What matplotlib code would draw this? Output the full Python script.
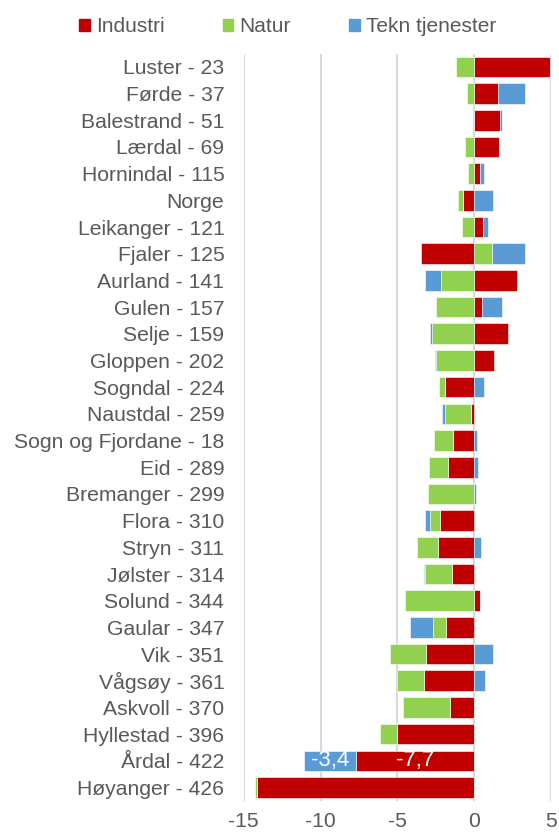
import numpy as np
import matplotlib.pyplot as plt
from matplotlib.patches import Patch

plt.rcParams['font.family'] = ['Liberation Sans', 'DejaVu Sans']

# categories from top to bottom
kommuner = ["Luster - 23", "Førde - 37", "Balestrand - 51", "Lærdal - 69", "Hornindal - 115",
            "Norge", "Leikanger - 121", "Fjaler - 125", "Aurland - 141", "Gulen - 157",
            "Selje - 159", "Gloppen - 202", "Sogndal - 224", "Naustdal - 259",
            "Sogn og Fjordane - 18", "Eid - 289", "Bremanger - 299", "Flora - 310",
            "Stryn - 311", "Jølster - 314", "Solund - 344", "Gaular - 347", "Vik - 351",
            "Vågsøy - 361", "Askvoll - 370", "Hyllestad - 396", "Årdal - 422", "Høyanger - 426"]

industri = [4.93, 1.52, 1.67, 1.6, 0.4, -0.74, 0.55, -3.45, 2.8, 0.53,
            2.2, 1.3, -1.91, -0.24, -1.41, -1.72, 0.0, -2.26, -2.33, -1.46,
            0.4, -1.83, -3.17, -3.28, -1.57, -5.04, -7.7, -14.13]
natur = [-1.17, -0.48, -0.03, -0.59, -0.41, -0.35, -0.83, 1.17, -2.15, -2.48,
         -2.74, -2.46, -0.39, -1.67, -1.2, -1.24, -3.0, -0.63, -1.37, -1.74,
         -4.48, -0.87, -2.3, -1.74, -3.04, -1.09, 0.0, -0.15]
tekn = [0.03, 1.76, 0.15, 0.0, 0.2, 1.24, 0.35, 2.13, -1.07, 1.3,
        -0.13, -0.09, 0.65, -0.17, 0.17, 0.25, 0.13, -0.33, 0.46, -0.09,
        0.0, -1.48, 1.2, 0.67, 0.0, 0.0, -3.4, 0.0]

serier = [("Industri", industri, "#C00000"),
          ("Natur", natur, "#92D050"),
          ("Tekn tjenester", tekn, "#5B9BD5")]

fig = plt.figure(figsize=(5.59, 8.36), dpi=100)
ax = fig.add_axes([0.436, 0.042, 0.550, 0.894])

y = np.arange(len(kommuner))
pos_base = np.zeros(len(kommuner))
neg_base = np.zeros(len(kommuner))
for navn, verdier, farge in serier:
    v = np.array(verdier)
    base = np.where(v >= 0, pos_base, neg_base)
    ax.barh(y, v, left=base, height=0.77, color=farge,
            edgecolor="white", linewidth=0.4, zorder=3)
    pos_base += np.where(v >= 0, v, 0)
    neg_base += np.where(v < 0, v, 0)
    # data labels only on Årdal
    i = kommuner.index("Årdal - 422")
    if abs(v[i]) > 1:
        ax.text(base[i] + v[i] / 2, y[i], f"{v[i]:.1f}".replace(".", ","),
                ha="center", va="center", color="white", fontsize=16, zorder=4)

ax.set_xlim(-15, 5)
ax.set_ylim(len(kommuner) - 0.5, -0.5)
ax.set_xticks([-15, -10, -5, 0, 5])
ax.set_xticklabels(["-15", "-10", "-5", "0", "5"])
ax.set_yticks(y)
ax.set_yticklabels(kommuner)
ax.tick_params(length=0, labelsize=15.2, colors="#595959")
ax.tick_params(axis="x", pad=8)
ax.tick_params(axis="y", pad=14)
ax.grid(axis="x", color="#d9d9d9", linewidth=1.5, zorder=0)
for s in ax.spines.values():
    s.set_visible(False)

handles = [Patch(color=f, label=n) for n, _, f in serier]
fig.legend(handles=handles, loc="center", bbox_to_anchor=(0.515, 0.968), ncol=3,
           frameon=False, fontsize=15, handlelength=0.5, handleheight=0.5,
           handletextpad=0.3, columnspacing=2.8, labelcolor="#595959")

fig.savefig("out.png", dpi=100)
